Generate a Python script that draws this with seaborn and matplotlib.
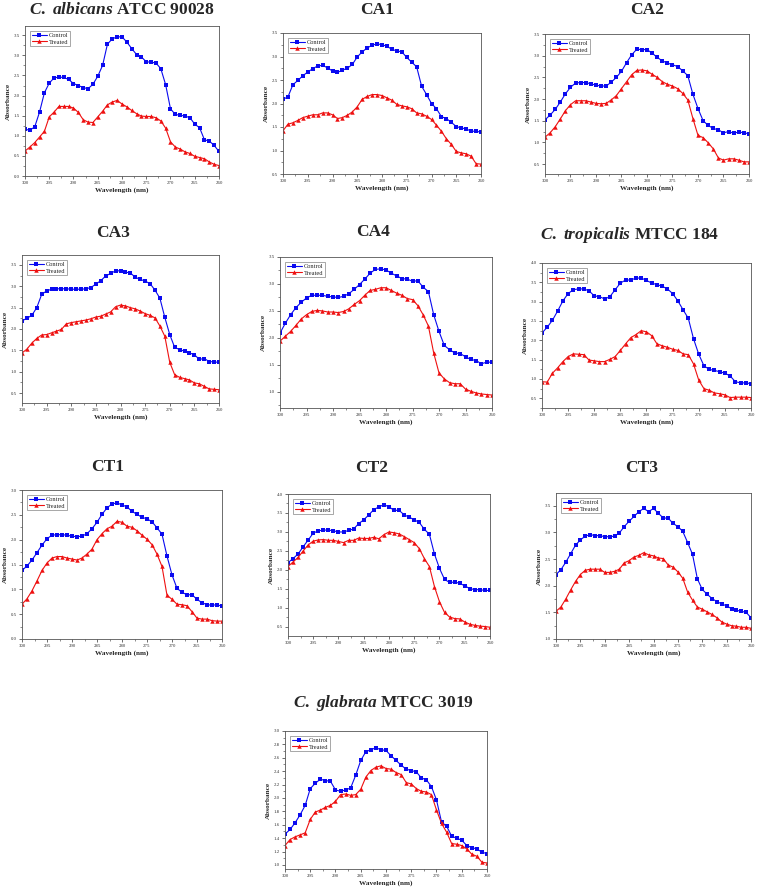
import matplotlib
matplotlib.use("Agg")
import matplotlib.pyplot as plt
import numpy as np
import pandas as pd
import seaborn as sns
from matplotlib.ticker import MultipleLocator, AutoMinorLocator, FormatStrFormatter

# ---------------- data ----------------
wavelength = list(range(300, 259, -1))

titles = [
    r"$\mathit{C.\ albicans}$ ATCC 90028", "CA1", "CA2",
    "CA3", "CA4", r"$\mathit{C.\ tropicalis}$ MTCC 184",
    "CT1", "CT2", "CT3",
    r"$\mathit{C.\ glabrata}$ MTCC 3019",
]

albicans_control = [1.16, 1.14, 1.22, 1.59, 2.07, 2.31, 2.44, 2.46, 2.45, 2.40, 2.30, 2.25, 2.20, 2.17,
                    2.28, 2.48, 2.75, 3.28, 3.41, 3.46, 3.46, 3.33, 3.17, 3.02, 2.96, 2.84, 2.83, 2.81,
                    2.67, 2.27, 1.67, 1.53, 1.51, 1.49, 1.45, 1.29, 1.20, 0.90, 0.87, 0.76, 0.61]
albicans_treated = [0.62, 0.72, 0.83, 0.97, 1.11, 1.47, 1.59, 1.73, 1.73, 1.73, 1.69, 1.58, 1.40, 1.34,
                    1.33, 1.47, 1.61, 1.77, 1.84, 1.88, 1.79, 1.72, 1.63, 1.55, 1.49, 1.48, 1.48, 1.45,
                    1.37, 1.19, 0.85, 0.72, 0.67, 0.60, 0.56, 0.49, 0.46, 0.43, 0.35, 0.29, 0.26]

ca1_control = [2.09, 2.14, 2.40, 2.49, 2.59, 2.67, 2.74, 2.80, 2.81, 2.76, 2.69, 2.66, 2.71, 2.75,
               2.83, 2.99, 3.10, 3.18, 3.24, 3.27, 3.25, 3.22, 3.15, 3.12, 3.10, 2.98, 2.88, 2.78,
               2.37, 2.19, 2.00, 1.89, 1.72, 1.68, 1.60, 1.51, 1.48, 1.46, 1.41, 1.41, 1.39]
ca1_treated = [1.42, 1.56, 1.59, 1.64, 1.70, 1.73, 1.76, 1.76, 1.80, 1.80, 1.76, 1.68, 1.70, 1.75,
               1.82, 1.93, 2.09, 2.15, 2.19, 2.19, 2.17, 2.12, 2.07, 1.98, 1.95, 1.93, 1.89, 1.80,
               1.78, 1.73, 1.66, 1.54, 1.41, 1.25, 1.13, 0.98, 0.95, 0.93, 0.88, 0.72, 0.71]

ca2_control = [1.52, 1.63, 1.76, 1.93, 2.12, 2.27, 2.37, 2.38, 2.38, 2.35, 2.32, 2.30, 2.30, 2.39,
               2.50, 2.64, 2.84, 3.02, 3.15, 3.14, 3.14, 3.06, 2.96, 2.88, 2.83, 2.79, 2.75, 2.65,
               2.54, 2.11, 1.78, 1.50, 1.39, 1.32, 1.29, 1.22, 1.25, 1.21, 1.24, 1.22, 1.20]
ca2_treated = [1.12, 1.22, 1.36, 1.54, 1.73, 1.87, 1.96, 1.96, 1.96, 1.93, 1.90, 1.89, 1.90, 1.98,
               2.08, 2.24, 2.40, 2.56, 2.66, 2.67, 2.65, 2.57, 2.50, 2.40, 2.34, 2.30, 2.24, 2.13,
               1.98, 1.55, 1.16, 1.11, 0.99, 0.85, 0.64, 0.59, 0.62, 0.62, 0.59, 0.55, 0.55]

ca3_control = [2.19, 2.25, 2.32, 2.50, 2.81, 2.89, 2.93, 2.94, 2.94, 2.94, 2.93, 2.93, 2.93, 2.94,
               2.97, 3.05, 3.13, 3.24, 3.30, 3.36, 3.36, 3.33, 3.31, 3.21, 3.16, 3.12, 3.06, 2.91,
               2.72, 2.27, 1.87, 1.57, 1.52, 1.48, 1.44, 1.40, 1.29, 1.31, 1.24, 1.23, 1.22]
ca3_treated = [1.44, 1.53, 1.67, 1.78, 1.86, 1.87, 1.91, 1.95, 1.99, 2.12, 2.15, 2.17, 2.19, 2.21,
               2.24, 2.28, 2.30, 2.35, 2.40, 2.52, 2.56, 2.54, 2.50, 2.47, 2.42, 2.36, 2.32, 2.26,
               2.07, 1.83, 1.22, 0.93, 0.87, 0.84, 0.81, 0.74, 0.72, 0.66, 0.60, 0.59, 0.58]

ca4_control = [2.09, 2.27, 2.43, 2.56, 2.66, 2.74, 2.79, 2.79, 2.79, 2.77, 2.76, 2.75, 2.77, 2.82,
               2.90, 2.99, 3.09, 3.20, 3.27, 3.28, 3.26, 3.20, 3.15, 3.10, 3.09, 3.05, 3.06, 2.94,
               2.86, 2.43, 2.12, 1.86, 1.78, 1.72, 1.71, 1.65, 1.60, 1.58, 1.52, 1.55, 1.55]
ca4_treated = [1.94, 2.03, 2.12, 2.23, 2.35, 2.43, 2.49, 2.51, 2.50, 2.48, 2.48, 2.47, 2.49, 2.54,
               2.62, 2.69, 2.79, 2.88, 2.90, 2.93, 2.93, 2.88, 2.83, 2.79, 2.73, 2.71, 2.60, 2.43,
               2.22, 1.72, 1.35, 1.24, 1.17, 1.15, 1.15, 1.05, 1.01, 0.98, 0.96, 0.95, 0.94]

tropicalis_control = [2.19, 2.34, 2.52, 2.76, 3.02, 3.21, 3.31, 3.33, 3.33, 3.28, 3.15, 3.13, 3.07, 3.13,
                      3.31, 3.48, 3.56, 3.56, 3.61, 3.61, 3.55, 3.48, 3.44, 3.40, 3.33, 3.21, 3.02, 2.79,
                      2.57, 2.04, 1.64, 1.34, 1.25, 1.22, 1.19, 1.15, 1.08, 0.93, 0.90, 0.90, 0.88]
tropicalis_treated = [0.93, 0.92, 1.15, 1.29, 1.45, 1.58, 1.65, 1.64, 1.63, 1.49, 1.47, 1.45, 1.45, 1.51,
                      1.58, 1.74, 1.91, 2.07, 2.15, 2.25, 2.22, 2.12, 1.91, 1.86, 1.82, 1.77, 1.74, 1.65,
                      1.63, 1.39, 0.97, 0.75, 0.71, 0.64, 0.62, 0.59, 0.52, 0.53, 0.53, 0.53, 0.52]

ct1_control = [1.38, 1.47, 1.59, 1.74, 1.89, 2.02, 2.09, 2.10, 2.10, 2.09, 2.07, 2.06, 2.07, 2.12,
               2.22, 2.35, 2.51, 2.64, 2.72, 2.74, 2.70, 2.66, 2.57, 2.51, 2.45, 2.42, 2.36, 2.24,
               2.11, 1.67, 1.29, 1.02, 0.94, 0.89, 0.89, 0.80, 0.73, 0.69, 0.68, 0.69, 0.66]
ct1_treated = [0.70, 0.81, 0.97, 1.17, 1.38, 1.53, 1.63, 1.66, 1.66, 1.63, 1.61, 1.59, 1.63, 1.71,
               1.81, 2.00, 2.12, 2.22, 2.27, 2.37, 2.35, 2.27, 2.25, 2.18, 2.09, 2.01, 1.90, 1.71,
               1.46, 0.88, 0.80, 0.70, 0.69, 0.67, 0.55, 0.42, 0.40, 0.40, 0.37, 0.36, 0.36]

ct2_control = [2.19, 2.30, 2.42, 2.61, 2.79, 2.97, 3.03, 3.05, 3.05, 3.03, 3.00, 3.00, 3.04, 3.08,
               3.22, 3.32, 3.45, 3.59, 3.66, 3.72, 3.66, 3.57, 3.57, 3.45, 3.39, 3.32, 3.25, 3.07,
               2.94, 2.42, 2.04, 1.75, 1.67, 1.68, 1.65, 1.58, 1.51, 1.48, 1.48, 1.46, 1.46]
ct2_treated = [2.09, 2.21, 2.33, 2.50, 2.66, 2.76, 2.79, 2.80, 2.78, 2.78, 2.75, 2.72, 2.78, 2.78,
               2.84, 2.83, 2.83, 2.86, 2.82, 2.93, 3.00, 2.98, 2.95, 2.88, 2.80, 2.72, 2.56, 2.30,
               2.09, 1.56, 1.16, 0.88, 0.76, 0.72, 0.71, 0.63, 0.57, 0.54, 0.52, 0.51, 0.49]

ct3_control = [2.21, 2.30, 2.44, 2.60, 2.76, 2.86, 2.93, 2.96, 2.94, 2.94, 2.92, 2.92, 2.93, 2.99,
               3.11, 3.21, 3.30, 3.39, 3.45, 3.39, 3.45, 3.36, 3.27, 3.27, 3.17, 3.11, 3.02, 2.81,
               2.59, 2.13, 1.93, 1.84, 1.76, 1.70, 1.66, 1.62, 1.57, 1.54, 1.52, 1.50, 1.40]
ct3_treated = [1.52, 1.60, 1.75, 1.92, 2.08, 2.21, 2.29, 2.31, 2.31, 2.31, 2.25, 2.25, 2.27, 2.31,
               2.43, 2.47, 2.54, 2.57, 2.62, 2.58, 2.56, 2.52, 2.51, 2.39, 2.35, 2.26, 2.14, 1.88,
               1.73, 1.60, 1.56, 1.51, 1.46, 1.40, 1.32, 1.28, 1.25, 1.24, 1.22, 1.22, 1.20]

glabrata_control = [1.46, 1.53, 1.63, 1.75, 1.89, 2.14, 2.22, 2.28, 2.26, 2.25, 2.12, 2.10, 2.12, 2.15,
                    2.34, 2.56, 2.69, 2.72, 2.75, 2.72, 2.71, 2.63, 2.56, 2.49, 2.43, 2.41, 2.39, 2.30,
                    2.27, 2.17, 1.97, 1.64, 1.58, 1.43, 1.40, 1.37, 1.29, 1.26, 1.24, 1.19, 1.17]
glabrata_treated = [1.29, 1.38, 1.42, 1.45, 1.48, 1.68, 1.79, 1.82, 1.86, 1.89, 1.95, 2.05, 2.06, 2.04,
                    2.05, 2.13, 2.31, 2.41, 2.46, 2.48, 2.44, 2.43, 2.38, 2.35, 2.23, 2.21, 2.14, 2.10,
                    2.09, 2.05, 1.82, 1.62, 1.49, 1.32, 1.31, 1.29, 1.24, 1.16, 1.13, 1.04, 1.03]

controls = [albicans_control, ca1_control, ca2_control, ca3_control, ca4_control, tropicalis_control,
            ct1_control, ct2_control, ct3_control, glabrata_control]
treateds = [albicans_treated, ca1_treated, ca2_treated, ca3_treated, ca4_treated, tropicalis_treated,
            ct1_treated, ct2_treated, ct3_treated, glabrata_treated]

y_limits = [(0.0, 3.73), (0.5, 3.5), (0.27, 3.5), (0.27, 3.73), (0.7, 3.5), (0.25, 4.0),
            (0.0, 3.0), (0.26, 4.0), (1.0, 3.74), (0.94, 3.0)]
y_steps = [0.5, 0.5, 0.5, 0.5, 0.5, 0.5, 0.5, 0.5, 0.5, 0.2]
series_names = ["Control", "Treated"]

# ---------------- layout (pixels: left, top, right, bottom) ----------------
W, H = 758, 892
axes_px = [(25, 26, 219, 176), (283, 33, 481, 174), (545, 34, 749, 174),
           (22, 255, 219, 403), (280, 257, 492, 408), (542, 263, 751, 408),
           (22, 490, 222, 639), (288, 494, 490, 636), (556, 493, 751, 639),
           (285, 731, 487, 869)]
title_px = [(122, 10), (377, 10), (647, 10),
            (113, 233), (373, 232), (630, 235),
            (108, 467), (372, 468), (642, 468),
            (383, 703)]

sns.set_theme(style="ticks")
plt.rcParams["font.family"] = ["Liberation Serif", "DejaVu Serif"]
plt.rcParams["mathtext.fontset"] = "custom"
plt.rcParams["mathtext.it"] = "Liberation Serif:italic:bold"
plt.rcParams["mathtext.rm"] = "Liberation Serif:bold"
plt.rcParams["mathtext.bf"] = "Liberation Serif:bold"

palette = {"Control": "#0a0af0", "Treated": "#ee1010"}
markers = {"Control": "s", "Treated": "^"}

fig = plt.figure(figsize=(W / 100, H / 100), dpi=100)
fig.patch.set_facecolor("white")

for i in range(10):
    l, t, r, b = axes_px[i]
    ax = fig.add_axes([l / W, 1 - b / H, (r - l) / W, (b - t) / H])
    df = pd.DataFrame({
        "Wavelength": wavelength * 2,
        "Absorbance": controls[i] + treateds[i],
        "Sample": [series_names[0]] * len(wavelength) + [series_names[1]] * len(wavelength),
    })
    sns.lineplot(data=df, x="Wavelength", y="Absorbance", hue="Sample", style="Sample",
                 markers=markers, dashes=False, palette=palette, linewidth=0.8,
                 markersize=3.2, markeredgewidth=0, ax=ax)
    ax.set_xlim(300, 260)
    ax.set_ylim(*y_limits[i])
    ax.xaxis.set_major_locator(MultipleLocator(5))
    ax.xaxis.set_minor_locator(AutoMinorLocator(2))
    ax.yaxis.set_major_locator(MultipleLocator(y_steps[i]))
    ax.yaxis.set_minor_locator(AutoMinorLocator(2))
    ax.yaxis.set_major_formatter(FormatStrFormatter("%.1f"))
    ax.tick_params(axis="both", which="major", labelsize=3.5, length=2, width=0.5, pad=1.5,
                   direction="out", colors="#333333")
    ax.tick_params(axis="both", which="minor", length=1.2, width=0.4, direction="out", colors="#333333")
    for s in ax.spines.values():
        s.set_linewidth(0.6)
        s.set_color("#555555")
    ax.set_xlabel("Wavelength (nm)", fontsize=5.2, fontweight="bold", labelpad=2)
    ax.set_ylabel("Absorbance", fontsize=5.2, fontweight="bold", labelpad=2)
    leg = ax.legend(loc="upper left", fontsize=4.6, frameon=True, fancybox=False,
                    edgecolor="#666666", handlelength=2.4, borderpad=0.25, labelspacing=0.15,
                    handletextpad=0.3, borderaxespad=0.8, title=None)
    leg.get_frame().set_linewidth(0.5)
    tx, ty = title_px[i]
    fig.text(tx / W, 1 - ty / H, titles[i], ha="center", va="center", fontsize=12.5, fontweight="bold")

fig.savefig("out.png", dpi=100, facecolor="white")
